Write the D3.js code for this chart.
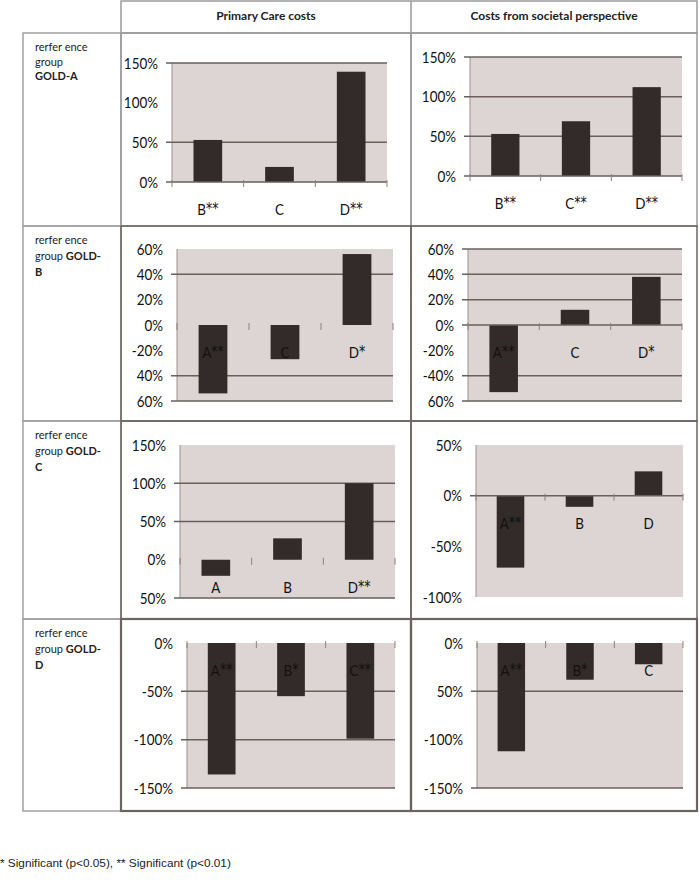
<!DOCTYPE html>
<html><head><meta charset="utf-8">
<script src="https://cdn.jsdelivr.net/npm/d3@7"></script>
<style>body{margin:0;background:#fff}</style>
</head><body><svg id="c" width="700" height="882"></svg>
<script>
// ---------- DATA ----------
const columnTitles = ["Primary Care costs", "Costs from societal perspective"];
const groupLetters = ["A", "B", "C", "D"];

const catsA1 = ["B**", "C", "D**"];   const valsA1 = [53, 19, 139];
const catsA2 = ["B**", "C**", "D**"]; const valsA2 = [53, 69, 112];
const catsB1 = ["A**", "C", "D*"];    const valsB1 = [-54, -27, 56];
const catsB2 = ["A**", "C", "D*"];    const valsB2 = [-53, 12, 38];
const catsC1 = ["A", "B", "D**"];     const valsC1 = [-21, 28, 100];
const catsC2 = ["A**", "B", "D"];     const valsC2 = [-71, -11, 24];
const catsD1 = ["A**", "B*", "C**"];  const valsD1 = [-136, -55, -99];
const catsD2 = ["A**", "B*", "C"];    const valsD2 = [-112, -38, -22];

const ticksPos150 = [0, 50, 100, 150];       const labelsPos150 = ["0%", "50%", "100%", "150%"];
const ticksB = [-60, -40, -20, 0, 20, 40, 60];
const labelsB1 = ["60%", "40%", "-20%", "0%", "20%", "40%", "60%"];
const labelsB2 = ["60%", "-40%", "-20%", "0%", "20%", "40%", "60%"];
const ticksC1 = [-50, 0, 50, 100, 150];      const labelsC1 = ["50%", "0%", "50%", "100%", "150%"];
const ticksC2 = [-100, -50, 0, 50];          const labelsC2 = ["-100%", "-50%", "0%", "50%"];
const ticksD = [-150, -100, -50, 0];
const labelsD1 = ["-150%", "-100%", "-50%", "0%"];
const labelsD2 = ["-150%", "-100%", "50%", "0%"];

const footnote = "* Significant (p<0.05), ** Significant (p<0.01)";

// ---------- LAYOUT ----------
const colX = [23, 121, 411, 697];
const rowY = [1, 33, 226, 421, 619, 811];

const panels = [
  {cats: catsA1, vals: valsA1, domain: [0, 150], ticks: ticksPos150, labels: labelsPos150, grid: [50, 150], zero: true,
   x0: 172, x1: 387, yT: 63, yB: 182},
  {cats: catsA2, vals: valsA2, domain: [0, 150], ticks: ticksPos150, labels: labelsPos150, grid: [50, 100, 150], zero: true,
   x0: 470, x1: 682, yT: 57, yB: 176},
  {cats: catsB1, vals: valsB1, domain: [-60, 60], ticks: ticksB, labels: labelsB1, grid: [40, -40, -60], zero: false,
   x0: 177, x1: 393, yT: 249, yB: 401},
  {cats: catsB2, vals: valsB2, domain: [-60, 60], ticks: ticksB, labels: labelsB2, grid: [60, 40, 20, -40, -60], zero: true,
   x0: 468, x1: 682, yT: 249, yB: 401},
  {cats: catsC1, vals: valsC1, domain: [-50, 150], ticks: ticksC1, labels: labelsC1, grid: [100, 50, -50], zero: false,
   x0: 180, x1: 395, yT: 445, yB: 598},
  {cats: catsC2, vals: valsC2, domain: [-100, 50], ticks: ticksC2, labels: labelsC2, grid: [], zero: true,
   x0: 476, x1: 683, yT: 445, yB: 597},
  {cats: catsD1, vals: valsD1, domain: [-150, 0], ticks: ticksD, labels: labelsD1, grid: [-50, -100, -150], zero: false,
   x0: 187, x1: 395, yT: 643, yB: 788},
  {cats: catsD2, vals: valsD2, domain: [-150, 0], ticks: ticksD, labels: labelsD2, grid: [-50, -150], zero: false,
   x0: 477, x1: 683, yT: 643, yB: 788}
];

const svg = d3.select("#c");
const BG = "#dcd5d3", BAR = "#332b2a", GRID = "#6a5f5d";
const chartFont = "Lato, sans-serif";
const FS = 16, SX = 0.84, PAD = 14;

panels.forEach(p => {
  const g = svg.append("g");
  const y = d3.scaleLinear().domain(p.domain).range([p.yB, p.yT]);
  const x = d3.scaleBand().domain(p.cats).range([p.x0, p.x1]).paddingInner(0.6).paddingOuter(0.3);
  const step = x.step();

  g.append("rect").attr("x", p.x0).attr("y", p.yT).attr("width", p.x1 - p.x0).attr("height", p.yB - p.yT).attr("fill", BG);

  g.append("line").attr("x1", p.x0).attr("x2", p.x0).attr("y1", p.yT).attr("y2", p.yB)
    .attr("stroke", "#9b908e").attr("stroke-width", 1);

  g.selectAll(".grid").data(p.grid).join("line")
    .attr("x1", p.x0 - 6).attr("x2", p.x1).attr("y1", d => y(d)).attr("y2", d => y(d))
    .attr("stroke", GRID).attr("stroke-width", 1.5);

  const ax = d3.axisLeft(y).tickValues(p.ticks).tickSize(0).tickPadding(PAD)
    .tickFormat((d, i) => p.labels[i]);
  const ag = g.append("g").attr("transform", `translate(${p.x0},0)`).call(ax);
  ag.select(".domain").remove();
  ag.selectAll("text").attr("font-family", chartFont).attr("font-size", FS).attr("fill", "#111")
    .attr("x", -PAD / SX).attr("transform", `scale(${SX},1)`);

  g.selectAll(".bar").data(p.cats).join("rect")
    .attr("x", d => x(d)).attr("width", x.bandwidth())
    .attr("y", (d, i) => Math.min(y(p.vals[i]), y(0)))
    .attr("height", (d, i) => Math.abs(y(p.vals[i]) - y(0)))
    .attr("fill", BAR);

  if (p.zero) {
    g.append("line").attr("x1", p.x0 - 6).attr("x2", p.x1).attr("y1", y(0)).attr("y2", y(0))
      .attr("stroke", GRID).attr("stroke-width", 1.5);
  }
  g.selectAll(".xt").data(d3.range(p.cats.length + 1)).join("line")
    .attr("x1", k => p.x0 + k * step).attr("x2", k => p.x0 + k * step)
    .attr("y1", y(0) - 2).attr("y2", y(0) + 5)
    .attr("stroke", "#8a807e").attr("stroke-width", 1);

  const cl = g.selectAll(".cl").data(p.cats).join("text")
    .attr("transform", d => `translate(${x(d) + x.bandwidth() / 2},${y(0) + 33}) scale(${SX},1)`)
    .attr("text-anchor", "middle").attr("font-family", chartFont).attr("font-size", FS).attr("fill", "#111");
  cl.append("tspan").text(d => d.replace(/\*+$/, ""));
  cl.append("tspan").attr("font-family", "'DejaVu Sans', sans-serif").attr("font-size", 15).attr("dy", -1)
    .text(d => (d.match(/\*+$/) || [""])[0]);
});

// ---------- TABLE ----------
const T = svg.append("g");
const headFont = "Lato, sans-serif";
T.append("rect").attr("x", colX[1]).attr("y", rowY[0]).attr("width", colX[3] - colX[1]).attr("height", rowY[1] - rowY[0])
  .attr("fill", "none").attr("stroke", "#9a9a9a").attr("stroke-width", 1.5);
T.append("line").attr("x1", colX[2]).attr("x2", colX[2]).attr("y1", rowY[0]).attr("y2", rowY[1])
  .attr("stroke", "#9a9a9a").attr("stroke-width", 1.5);
columnTitles.forEach((t, i) => {
  T.append("text").attr("x", (colX[i + 1] + colX[i + 2]) / 2).attr("y", 20)
    .attr("text-anchor", "middle").attr("font-family", headFont).attr("font-weight", "bold")
    .attr("font-size", 12).attr("fill", "#222").text(t);
});

groupLetters.forEach((L, r) => {
  const y0 = rowY[r + 1], y1 = rowY[r + 2];
  T.append("rect").attr("x", colX[0]).attr("y", y0).attr("width", colX[1] - colX[0]).attr("height", y1 - y0)
    .attr("fill", "none").attr("stroke", "#a0a0a0").attr("stroke-width", 1.5);
  const sc = r === 0 ? "#9a9a9a" : "#6b6361";
  const sw = r === 3 ? 2.2 : 1.5;
  [1, 2].forEach(c => {
    T.append("rect").attr("x", colX[c]).attr("y", y0).attr("width", colX[c + 1] - colX[c]).attr("height", y1 - y0)
      .attr("fill", "none").attr("stroke", sc).attr("stroke-width", sw);
  });
  const tx = 35, ty = y0 + 18;
  const txt = (yy) => T.append("text").attr("x", tx).attr("y", yy).attr("font-family", headFont)
    .attr("font-size", 11).attr("fill", "#222");
  txt(ty).text("rerfer ence");
  if (r === 0) {
    txt(ty + 15).text("group");
    txt(ty + 29).attr("font-weight", "bold").text("GOLD-" + L);
  } else {
    const t2 = txt(ty + 16);
    t2.append("tspan").text("group ");
    t2.append("tspan").attr("font-weight", "bold").text("GOLD-");
    txt(ty + 32).attr("font-weight", "bold").text(L);
  }
});

svg.append("text").attr("x", 0).attr("y", 867).attr("font-family", "'Liberation Sans', Arial, sans-serif")
  .attr("font-size", 11.8).attr("fill", "#222").text(footnote);
</script></body></html>
